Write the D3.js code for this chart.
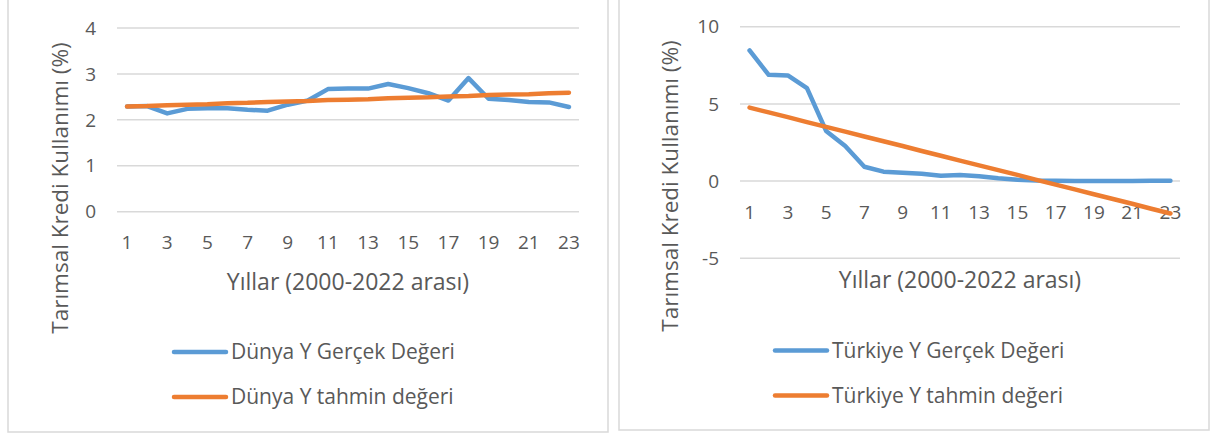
<!DOCTYPE html>
<html>
<head>
<meta charset="utf-8">
<script src="https://cdn.jsdelivr.net/npm/d3@7"></script>
<style>
  body { margin: 0; background: #fff; }
  svg text { font-family: 'Open Sans', sans-serif; fill: #595959; }
</style>
</head>
<body>
<div id="viz"></div>
<script>
// years 2000-2022 numbered 1..23
const years = d3.range(1, 24);
const xTickLabels = ['1', '3', '5', '7', '9', '11', '13', '15', '17', '19', '21', '23'];

const dunyaGercek = [2.29, 2.30, 2.14, 2.24, 2.25, 2.25, 2.22, 2.20, 2.33, 2.42, 2.67, 2.68,
  2.68, 2.78, 2.69, 2.58, 2.42, 2.91, 2.46, 2.43, 2.39, 2.38, 2.28];
const dunyaTahmin = [2.29, 2.30, 2.32, 2.33, 2.34, 2.36, 2.37, 2.39, 2.40, 2.41, 2.43, 2.44,
  2.45, 2.47, 2.48, 2.49, 2.51, 2.52, 2.54, 2.55, 2.56, 2.58, 2.59];

const turkiyeGercek = [8.46, 6.88, 6.84, 6.02, 3.25, 2.27, 0.93, 0.61, 0.54, 0.48, 0.35, 0.39,
  0.32, 0.19, 0.09, 0.04, 0.02, 0.01, 0.01, 0.01, 0.01, 0.02, 0.02];
const turkiyeTahmin = [4.76, 4.45, 4.14, 3.82, 3.51, 3.20, 2.89, 2.58, 2.27, 1.95, 1.64, 1.33,
  1.02, 0.71, 0.40, 0.08, -0.23, -0.54, -0.85, -1.16, -1.47, -1.79, -2.10];

const dunyaYTicks = [0, 1, 2, 3, 4];
const turkiyeYTicks = [-5, 0, 5, 10];

const yTitle = 'Tarımsal Kredi Kullanımı (%)';
const xTitle = 'Yıllar (2000-2022 arası)';

const blue = '#5b9bd5';
const orange = '#ed7d31';
const fs = 19;

const w = 1210;
const h = 434;

var svg = d3.select('#viz').
append('svg').
attr('width', w).
attr('height', h);

function drawPanel(p) {
  var g = svg.append('g');

  // panel frame
  g.append('rect').
  attr('x', p.box[0]).
  attr('y', p.box[1]).
  attr('width', p.box[2] - p.box[0]).
  attr('height', p.box[3] - p.box[1]).
  attr('fill', '#fff').
  attr('stroke', '#d9d9d9').
  attr('stroke-width', 1.5);

  const xScale = d3.scaleBand().
  domain(years).
  range([p.left, p.right]);

  const yScale = d3.scaleLinear().
  domain(p.yDomain).
  range([p.bottom, p.top]);

  const cx = d => xScale(d) + xScale.bandwidth() / 2;

  // gridlines
  g.selectAll('.grid').
  data(p.yTicks).
  enter().
  append('line').
  attr('x1', p.left).
  attr('x2', p.right).
  attr('y1', d => yScale(d)).
  attr('y2', d => yScale(d)).
  attr('stroke', '#d9d9d9').
  attr('stroke-width', 1.5);

  // y tick labels
  g.selectAll('.ylab').
  data(p.yTicks).
  enter().
  append('text').
  attr('x', p.left - 21).
  attr('y', d => yScale(d)).
  attr('dy', '0.35em').
  attr('text-anchor', 'end').
  style('font-size', fs + 'px').
  text(d => d);

  // x tick labels sit under the zero line
  g.selectAll('.xlab').
  data(xTickLabels).
  enter().
  append('text').
  attr('x', d => cx(+d)).
  attr('y', yScale(0) + 31).
  attr('dy', '0.35em').
  attr('text-anchor', 'middle').
  style('font-size', fs + 'px').
  text(d => d);

  const line = d3.line().
  x((d, i) => cx(years[i])).
  y(d => yScale(d));

  g.append('path').
  datum(p.real).
  attr('d', line).
  attr('fill', 'none').
  attr('stroke', blue).
  attr('stroke-width', 4.5).
  attr('stroke-linejoin', 'round').
  attr('stroke-linecap', 'round');

  g.append('path').
  datum(p.fit).
  attr('d', line).
  attr('fill', 'none').
  attr('stroke', orange).
  attr('stroke-width', 4.5).
  attr('stroke-linecap', 'round');

  // axis titles
  g.append('text').
  attr('transform', 'translate(' + p.yTitleX + ',' + p.yTitleY + ') rotate(-90)').
  attr('text-anchor', 'middle').
  attr('dy', '0.35em').
  style('font-size', '22.5px').
  text(yTitle);

  g.append('text').
  attr('x', p.xTitleX).
  attr('y', p.xTitleY).
  attr('dy', '0.35em').
  attr('text-anchor', 'middle').
  style('font-size', '23px').
  text(xTitle);

  // legend
  const legend = g.selectAll('.leg').
  data(p.legend).
  enter().
  append('g').
  attr('transform', (d, i) => 'translate(' + p.legX + ',' + (p.legY + i * 45) + ')');

  legend.append('line').
  attr('x1', 0).
  attr('x2', 52).
  attr('stroke', (d, i) => i == 0 ? blue : orange).
  attr('stroke-width', 4.5).
  attr('stroke-linecap', 'round');

  legend.append('text').
  attr('x', 57).
  attr('dy', '0.35em').
  style('font-size', '21px').
  text(d => d);
}

drawPanel({
  box: [8, -1, 608, 432],
  left: 117, right: 579, top: 28, bottom: 211.7,
  yDomain: [0, 4], yTicks: dunyaYTicks,
  real: dunyaGercek, fit: dunyaTahmin,
  yTitleX: 60, yTitleY: 188,
  xTitleX: 348, xTitleY: 282,
  legX: 174, legY: 352,
  legend: ['Dünya Y Gerçek Değeri', 'Dünya Y tahmin değeri']
});

drawPanel({
  box: [619, -1, 1209, 430],
  left: 740, right: 1180, top: 26.7, bottom: 258.3,
  yDomain: [-5, 10], yTicks: turkiyeYTicks,
  real: turkiyeGercek, fit: turkiyeTahmin,
  yTitleX: 670, yTitleY: 186,
  xTitleX: 960, xTitleY: 280,
  legX: 775, legY: 350.5,
  legend: ['Türkiye Y Gerçek Değeri', 'Türkiye Y tahmin değeri']
});
</script>
</body>
</html>
